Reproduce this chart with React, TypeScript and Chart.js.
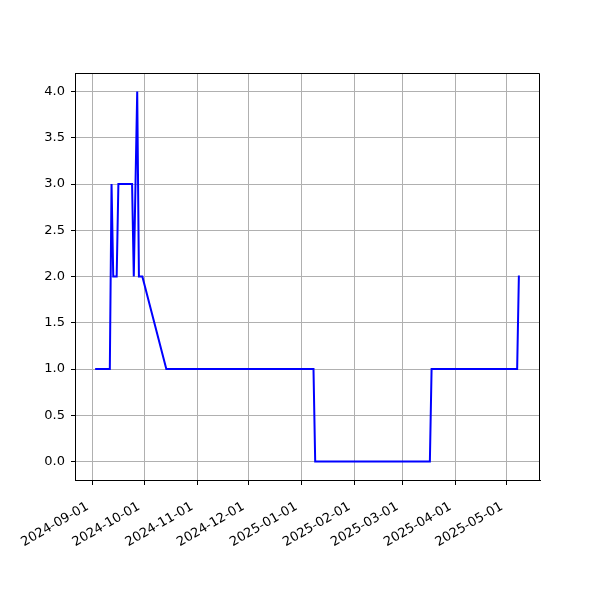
import React, { useEffect, useRef } from "react";
import { Chart, registerables } from "chart.js";

Chart.register(...registerables);

const dates: string[] = [
  "2024-09-03", "2024-09-11", "2024-09-12", "2024-09-13", "2024-09-15",
  "2024-09-16", "2024-09-24", "2024-09-25", "2024-09-27", "2024-09-28",
  "2024-09-30", "2024-10-14", "2025-01-08", "2025-01-09", "2025-03-17",
  "2025-03-18", "2025-05-07", "2025-05-08",
];
const values: number[] = [1, 1, 3, 2, 2, 3, 3, 2, 4, 2, 2, 1, 1, 0, 0, 1, 1, 2];
const xTickLabels: string[] = [
  "2024-09-01", "2024-10-01", "2024-11-01", "2024-12-01", "2025-01-01",
  "2025-02-01", "2025-03-01", "2025-04-01", "2025-05-01",
];
const yTickValues: number[] = [0, 0.5, 1, 1.5, 2, 2.5, 3, 3.5, 4];

const toTs = (s: string) => {
  const [y, m, d] = s.split("-").map(Number);
  return Date.UTC(y, m - 1, d);
};
const fmt = (v: number) => {
  const dt = new Date(v);
  const mm = String(dt.getUTCMonth() + 1).padStart(2, "0");
  const dd = String(dt.getUTCDate()).padStart(2, "0");
  return `${dt.getUTCFullYear()}-${mm}-${dd}`;
};

const framePlugin = {
  id: "frame",
  afterDraw(chart: any) {
    const { ctx, chartArea } = chart;
    const l = Math.round(chartArea.left);
    const t = Math.round(chartArea.top) + 0.5;
    const r = Math.round(chartArea.right) - 0.5;
    const b = Math.round(chartArea.bottom);
    ctx.save();
    ctx.strokeStyle = "#000";
    ctx.lineWidth = 1;
    ctx.beginPath();
    ctx.moveTo(l, t);
    ctx.lineTo(r, t);
    ctx.lineTo(r, b);
    ctx.stroke();
    ctx.restore();
  },
};

export default function App() {
  const ref = useRef<HTMLCanvasElement | null>(null);
  useEffect(() => {
    document.body.style.margin = "0";
    if (!ref.current) return;
    const xs = dates.map(toTs);
    const xmin0 = Math.min(...xs);
    const xmax0 = Math.max(...xs);
    const span = xmax0 - xmin0;
    const ymin0 = Math.min(...values);
    const ymax0 = Math.max(...values);
    const yspan = ymax0 - ymin0;
    const font = { family: "DejaVu Sans", size: 13 };
    const chart = new Chart(ref.current, {
      type: "line",
      data: {
        datasets: [
          {
            data: xs.map((x, i) => ({ x, y: values[i] })),
            borderColor: "#0000ff",
            borderWidth: 2,
            pointRadius: 0,
            tension: 0,
            fill: false,
            borderCapStyle: "square",
          },
        ],
      },
      options: {
        animation: false,
        responsive: false,
        maintainAspectRatio: false,
        layout: { padding: { left: 0, right: 60, top: 73, bottom: 0 } },
        plugins: { legend: { display: false }, tooltip: { enabled: false } },
        scales: {
          x: {
            type: "linear",
            min: xmin0 - 0.05 * span,
            max: xmax0 + 0.05 * span,
            afterBuildTicks: (axis: any) => {
              axis.ticks = xTickLabels.map((s) => ({ value: toTs(s) }));
            },
            afterFit: (axis: any) => {
              axis.height = 120;
            },
            ticks: {
              callback: (v: any) => fmt(Number(v)),
              maxRotation: 30,
              minRotation: 30,
              autoSkip: false,
              color: "#000",
              font,
              padding: 14,
              labelOffset: -5,
            },
            grid: { color: "#b0b0b0", lineWidth: 1, tickColor: "#000", tickLength: 5 },
            border: { color: "#000", width: 1 },
          },
          y: {
            type: "linear",
            min: ymin0 - 0.05 * yspan,
            max: ymax0 + 0.05 * yspan,
            afterBuildTicks: (axis: any) => {
              axis.ticks = yTickValues.map((v) => ({ value: v }));
            },
            afterFit: (axis: any) => {
              axis.width = 75;
            },
            ticks: {
              callback: (v: any) => Number(v).toFixed(1),
              color: "#000",
              font,
              padding: 6,
            },
            grid: { color: "#b0b0b0", lineWidth: 1, tickColor: "#000", tickLength: 4 },
            border: { color: "#000", width: 1 },
          },
        },
      },
      plugins: [framePlugin],
    });
    return () => chart.destroy();
  }, []);
  return (
    <div style={{ width: 600, height: 600, background: "#fff" }}>
      <canvas ref={ref} width={600} height={600} style={{ width: 600, height: 600 }} />
    </div>
  );
}
